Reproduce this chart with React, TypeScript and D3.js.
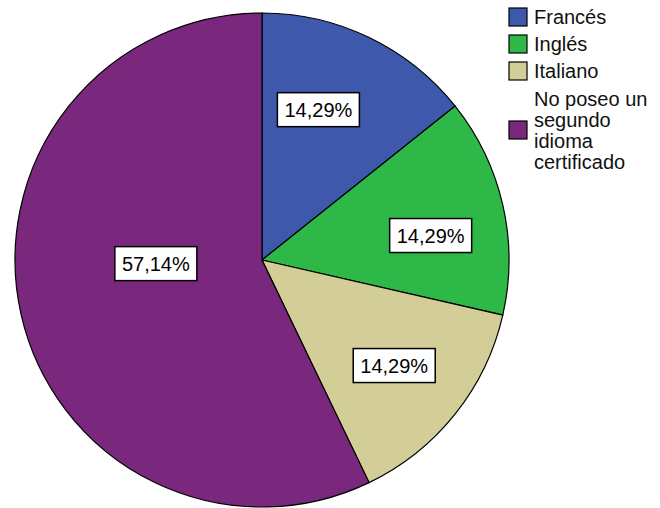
import React from "react";
import * as d3 from "d3";

const categories = ["Francés", "Inglés", "Italiano", "No poseo un segundo idioma certificado"];
const legendLines = [["Francés"], ["Inglés"], ["Italiano"], ["No poseo un", "segundo", "idioma", "certificado"]];
const values = [14.29, 14.29, 14.29, 57.14];
const labels = ["14,29%", "14,29%", "14,29%", "57,14%"];
const colors = ["#3E58AC", "#2EB848", "#D3CE97", "#7A287D"];

// label placement (angle offset in radians, radius fraction)
const labelPlace = [
  { da: -0.09, rf: 0.65 },
  { da: 0.08, rf: 0.69 },
  { da: 0, rf: 0.685 },
  { da: 0.19, rf: 0.43 },
];

export default function App() {
  const W = 660, H = 508;
  const cx = 262, cy = 260, r = 247;
  const pie = d3.pie<number>().sort(null).value((d) => d);
  const arcs = pie(values);
  const arc = d3.arc<d3.PieArcDatum<number>>().innerRadius(0).outerRadius(r);
  const font = "'Liberation Sans', Arial, sans-serif";

  const legendRowsY = [17, 44, 71, 130];
  return (
    <svg width={W} height={H} style={{ position: "absolute", left: 0, top: 0 }}>
      <rect width={W} height={H} fill="#fff" />
      <g transform={`translate(${cx},${cy})`}>
        {arcs.map((a, i) => (
          <path key={i} d={arc(a) || ""} fill={colors[i]} stroke="#000" strokeWidth={1.2} />
        ))}
        {arcs.map((a, i) => {
          const mid = (a.startAngle + a.endAngle) / 2 + labelPlace[i].da;
          const rr = r * labelPlace[i].rf;
          const x = Math.sin(mid) * rr;
          const y = -Math.cos(mid) * rr;
          const bw = 82, bh = 34;
          return (
            <g key={"l" + i} transform={`translate(${x},${y})`}>
              <rect x={-bw / 2} y={-bh / 2} width={bw} height={bh} fill="#fff" stroke="#000" strokeWidth={1.5} />
              <text textAnchor="middle" dy="0.36em" fontFamily={font} fontSize={20} fill="#000">
                {labels[i]}
              </text>
            </g>
          );
        })}
      </g>
      <g>
        {categories.map((c, i) => {
          const y = legendRowsY[i];
          const lines = legendLines[i];
          const lh = 21;
          const startY = y - ((lines.length - 1) * lh) / 2;
          return (
            <g key={"lg" + i}>
              <rect x={509} y={y - 9} width={18} height={18} fill={colors[i]} stroke="#000" strokeWidth={1.2} />
              <text fontFamily={font} fontSize={20} fill="#111">
                {lines.map((ln, j) => (
                  <tspan key={j} x={534} y={startY + j * lh} dy="0.36em">
                    {ln}
                  </tspan>
                ))}
              </text>
            </g>
          );
        })}
      </g>
    </svg>
  );
}
